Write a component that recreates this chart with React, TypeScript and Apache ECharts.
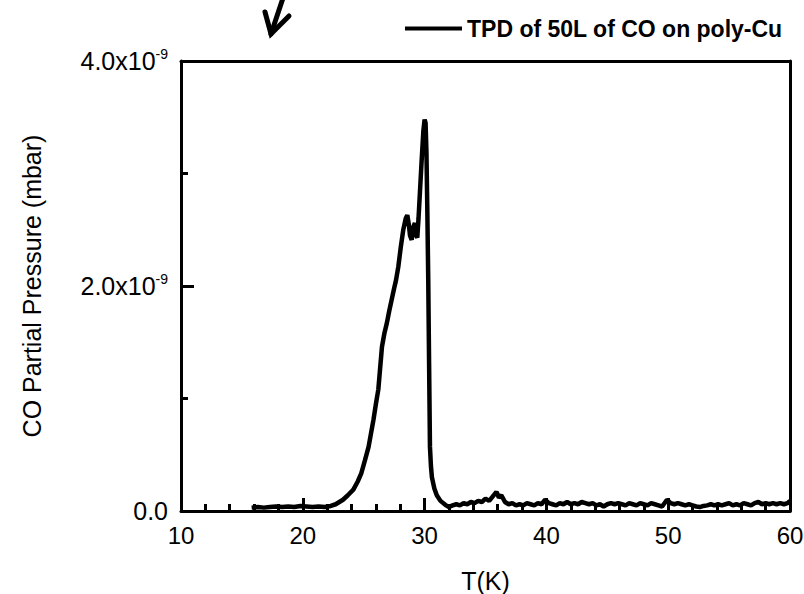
import React, { useEffect, useRef } from "react";
import * as echarts from "echarts";

// Temperature (K) and CO partial pressure (in units of 1e-9 mbar)
const temperatureK: number[] = [
  15.8, 16.3, 16.8, 17.3, 17.8, 18.3, 18.8, 19.3, 19.8, 20.3, 20.8, 21.3, 21.8, 22.3, 22.7,
  23.0, 23.3, 23.7, 24.15, 24.5, 24.8, 25.1, 25.4, 25.8, 26.0, 26.2, 26.5, 26.7, 26.9, 27.1,
  27.3, 27.5, 27.65, 27.84, 28.05, 28.25, 28.45, 28.58, 28.7, 28.8, 28.94, 29.05, 29.2, 29.3,
  29.4, 29.5, 29.6, 29.75, 29.9, 30.0, 30.08, 30.15, 30.22, 30.3, 30.37, 30.44, 30.52, 30.6,
  30.8, 31.0, 31.3, 31.7, 32.0, 32.3, 32.6, 32.9, 33.2, 33.5, 33.8, 34.1, 34.4, 34.7, 35.0,
  35.3, 35.6, 35.9, 36.1, 36.3, 36.6, 36.9, 37.2, 37.5, 37.8, 38.1, 38.4, 38.7, 39.0, 39.3,
  39.6, 39.9, 40.2, 40.5, 40.8, 41.1, 41.4, 41.7, 42.0, 42.3, 42.6, 42.9, 43.2, 43.5, 43.8,
  44.1, 44.4, 44.7, 45.0, 45.3, 45.6, 45.9, 46.2, 46.5, 46.8, 47.1, 47.4, 47.7, 48.0, 48.3,
  48.6, 48.9, 49.2, 49.5, 49.9, 50.2, 50.5, 50.8, 51.1, 51.4, 51.7, 52.0, 52.3, 52.6, 52.9,
  53.2, 53.5, 53.8, 54.1, 54.4, 54.7, 55.0, 55.3, 55.6, 55.9, 56.2, 56.5, 56.8, 57.1, 57.4,
  57.7, 58.0, 58.3, 58.6, 58.9, 59.2, 59.5, 59.8, 60.0,
];

const pressureE9: number[] = [
  0.03, 0.035, 0.03, 0.035, 0.04, 0.035, 0.04, 0.035, 0.045, 0.04, 0.035, 0.04, 0.035, 0.045, 0.06,
  0.08, 0.1, 0.14, 0.19, 0.26, 0.335, 0.45, 0.57, 0.81, 0.95, 1.08, 1.46, 1.58, 1.67, 1.78,
  1.88, 1.98, 2.05, 2.17, 2.35, 2.5, 2.6, 2.63, 2.55, 2.45, 2.41, 2.52, 2.56, 2.45,
  2.43, 2.6, 2.8, 3.1, 3.38, 3.48, 3.45, 3.2, 2.7, 2.05, 1.3, 0.57, 0.4, 0.3,
  0.2, 0.14, 0.09, 0.055, 0.035, 0.05, 0.06, 0.05, 0.07, 0.06, 0.08, 0.07, 0.09, 0.08, 0.11,
  0.09, 0.13, 0.17, 0.12, 0.14, 0.08, 0.06, 0.07, 0.05, 0.06, 0.05, 0.07, 0.06, 0.05, 0.07,
  0.06, 0.1, 0.07, 0.06, 0.05, 0.07, 0.06, 0.08, 0.06, 0.07, 0.06, 0.08, 0.07, 0.06, 0.07,
  0.05, 0.06, 0.04, 0.06, 0.07, 0.06, 0.07, 0.06, 0.05, 0.07, 0.06, 0.05, 0.07, 0.06, 0.05,
  0.07, 0.06, 0.05, 0.04, 0.1, 0.07, 0.06, 0.07, 0.06, 0.05, 0.06, 0.05, 0.04, 0.035, 0.045,
  0.05, 0.06, 0.05, 0.06, 0.05, 0.06, 0.07, 0.05, 0.06, 0.05, 0.07, 0.06, 0.05, 0.07, 0.08,
  0.06, 0.07, 0.06, 0.07, 0.06, 0.07, 0.06, 0.07, 0.09,
];

const seriesName = "TPD of 50L of CO on poly-Cu";
const xTitle = "T(K)";
const yTitle = "CO Partial Pressure (mbar)";

const FONT = "'Liberation Sans', Arial, sans-serif";

const frameAxis = {
  axisLine: { show: true, onZero: false, lineStyle: { color: "#000", width: 3 } },
  axisTick: { show: false },
  axisLabel: { show: false },
  splitLine: { show: false },
};

export default function App() {
  const ref = useRef<HTMLDivElement>(null);

  useEffect(() => {
    document.body.style.margin = "0";
    if (!ref.current) return;
    const chart = echarts.init(ref.current, undefined, { renderer: "svg" });
    const data = temperatureK.map((t, i) => [t, pressureE9[i]]);

    chart.setOption({
      animation: false,
      backgroundColor: "#ffffff",
      textStyle: { fontFamily: FONT },
      grid: { left: 181, right: 14, top: 61, bottom: 83, show: false, containLabel: false, outerBoundsMode: "none" },
      legend: {
        show: true,
        left: 400,
        top: 12,
        icon: "rect",
        itemWidth: 57,
        itemHeight: 4,
        textStyle: { fontFamily: FONT, fontWeight: "bold", fontSize: 23, color: "#000" },
        data: [seriesName],
      },
      xAxis: [
        {
          type: "value",
          min: 10,
          max: 60,
          interval: 10,
          name: xTitle,
          nameLocation: "middle",
          nameGap: 58,
          nameTextStyle: { fontFamily: FONT, fontSize: 25, lineHeight: 24, color: "#000" },
          axisLine: { show: true, onZero: false, lineStyle: { color: "#000", width: 3 } },
          axisTick: { show: true, inside: true, length: 13, lineStyle: { color: "#000", width: 3 } },
          minorTick: { show: true, splitNumber: 5, length: 7, lineStyle: { color: "#000", width: 3 } },
          splitLine: { show: false },
          axisLabel: { fontFamily: FONT, fontSize: 24, color: "#000", margin: 12 },
        },
        { type: "value", position: "top", min: 10, max: 60, ...frameAxis },
      ],
      yAxis: [
        {
          type: "value",
          min: 0,
          max: 4,
          interval: 2,
          name: yTitle,
          nameLocation: "middle",
          nameGap: 137,
          nameTextStyle: { fontFamily: FONT, fontSize: 25, color: "#000" },
          axisLine: { show: true, onZero: false, lineStyle: { color: "#000", width: 3 } },
          axisTick: { show: true, inside: true, length: 13, lineStyle: { color: "#000", width: 3 } },
          minorTick: { show: true, splitNumber: 2, length: 7, lineStyle: { color: "#000", width: 3 } },
          splitLine: { show: false },
          axisLabel: {
            margin: 13,
            color: "#000",
            fontFamily: FONT,
            fontSize: 25,
            formatter: (v: number) => (v === 0 ? "{a|0.0}" : `{a|${v.toFixed(1)}x10}{b|-9}`),
            rich: {
              a: { fontFamily: FONT, fontSize: 25, color: "#000" },
              b: { fontFamily: FONT, fontSize: 14, color: "#000", verticalAlign: "top", padding: [0, 0, 14, 0] },
            },
          },
        },
        { type: "value", position: "right", min: 0, max: 4, ...frameAxis },
      ],
      graphic: [
        {
          type: "polyline",
          shape: { points: [[283, -2], [271, 34]] },
          style: { stroke: "#000", lineWidth: 5, lineCap: "round", fill: "none" },
        },
        {
          type: "polyline",
          shape: { points: [[265, 12], [271, 34], [289, 16]] },
          style: { stroke: "#000", lineWidth: 5, lineCap: "round", lineJoin: "miter", fill: "none" },
        },
      ],
      series: [
        {
          name: seriesName,
          type: "line",
          xAxisIndex: 0,
          yAxisIndex: 0,
          data,
          showSymbol: false,
          symbol: "none",
          smooth: false,
          lineStyle: { color: "#000", width: 4.5 },
          itemStyle: { color: "#000" },
        },
      ],
    });

    return () => chart.dispose();
  }, []);

  return <div ref={ref} style={{ width: 804, height: 594 }} />;
}
